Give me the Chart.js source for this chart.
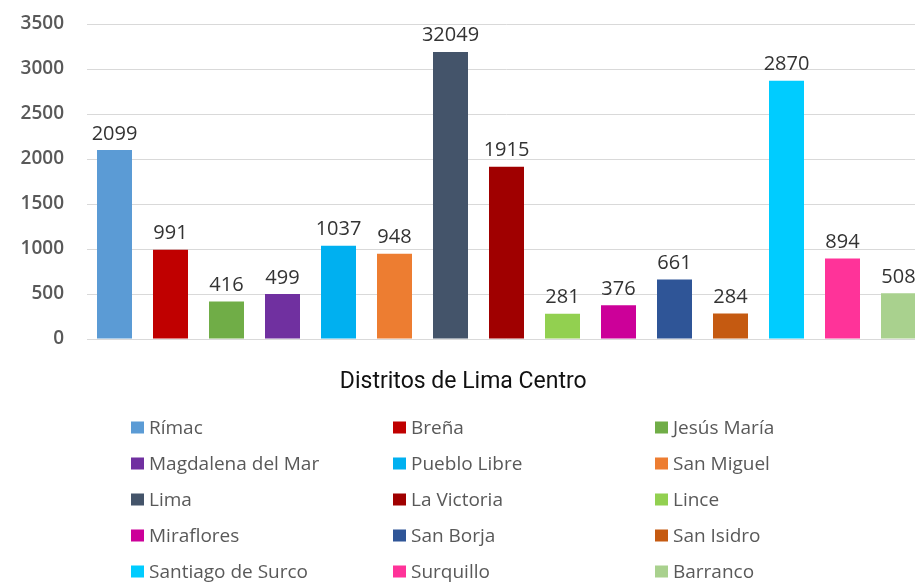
<!DOCTYPE html>
<html>
<head>
<meta charset="utf-8">
<script src="https://cdn.jsdelivr.net/npm/chart.js@4.4.1/dist/chart.umd.min.js"></script>
<style>
  html, body { margin: 0; padding: 0; background: #fff; overflow: hidden; }
  #wrap { width: 930px; height: 585px; }
</style>
</head>
<body>
<div id="wrap"><canvas id="c" width="930" height="585"></canvas></div>
<script>
const categories = ["Rímac", "Breña", "Jesús María", "Magdalena del Mar", "Pueblo Libre", "San Miguel", "Lima", "La Victoria", "Lince", "Miraflores", "San Borja", "San Isidro", "Santiago de Surco", "Surquillo", "Barranco"];
const values = [2099, 991, 416, 499, 1037, 948, 3190, 1915, 281, 376, 661, 284, 2870, 894, 508];
const valueLabels = ["2099", "991", "416", "499", "1037", "948", "32049", "1915", "281", "376", "661", "284", "2870", "894", "508"];
const barColors = ["#5B9BD5", "#C00000", "#70AD47", "#7030A0", "#00B0F0", "#ED7D31", "#44546A", "#A00000", "#92D050", "#CC0099", "#2F5597", "#C55A11", "#00CCFF", "#FF3399", "#A9D18E"];
const yTicks = [0, 500, 1000, 1500, 2000, 2500, 3000, 3500];
const axisTitle = "Distritos de Lima Centro";

const valueLabelPlugin = {
  id: 'valueLabels',
  afterDatasetsDraw(chart) {
    const ctx = chart.ctx;
    const meta = chart.getDatasetMeta(0);
    ctx.save();
    ctx.font = '20px "Open Sans"';
    ctx.fillStyle = '#333333';
    ctx.textAlign = 'center';
    ctx.textBaseline = 'alphabetic';
    meta.data.forEach((bar, i) => {
      ctx.fillText(valueLabels[i], bar.x, bar.y - 10.5);
    });
    ctx.restore();
  }
};

const gridLegendPlugin = {
  id: 'gridLegend',
  afterDraw(chart) {
    const ctx = chart.ctx;
    const colX = [131, 393, 655];
    const rowY = [427.5, 463.5, 499.5, 535.5, 571.5];
    ctx.save();
    ctx.font = '19px "Open Sans"';
    ctx.textAlign = 'left';
    ctx.textBaseline = 'middle';
    categories.forEach((name, i) => {
      const c = i % 3, r = Math.floor(i / 3);
      const x = colX[c], y = rowY[r];
      ctx.fillStyle = barColors[i];
      ctx.fillRect(x, y - 6, 13, 12);
      ctx.fillStyle = '#595959';
      ctx.fillText(name, x + 18, y + 1);
    });
    ctx.restore();
  }
};

new Chart(document.getElementById('c'), {
  type: 'bar',
  data: {
    labels: categories,
    datasets: [{
      data: values,
      backgroundColor: barColors,
      borderWidth: 0,
      categoryPercentage: 1,
      barPercentage: 0.625
    }]
  },
  options: {
    responsive: false,
    animation: false,
    devicePixelRatio: 1,
    layout: { padding: { left: 0, right: 3.5, top: 24, bottom: 180.4 } },
    plugins: {
      legend: { display: false },
      tooltip: { enabled: false },
      title: {
        display: true,
        position: 'bottom',
        text: axisTitle,
        color: '#111111',
        font: { family: 'Roboto', size: 23, weight: 'normal' },
        padding: { top: 29, bottom: 9 }
      }
    },
    scales: {
      x: { display: false },
      y: {
        min: 0,
        max: 3500,
        afterBuildTicks(scale) { scale.ticks = yTicks.map(v => ({ value: v })); },
        afterFit(scale) { scale.width = 86.5; },
        border: { display: false },
        grid: { color: '#D9D9D9', lineWidth: 1, drawTicks: false },
        ticks: {
          padding: 22.5,
          color: '#595959',
          font: { family: 'Open Sans', size: 19, weight: '600', lineHeight: 0.1 },
          callback: (v) => String(v)
        }
      }
    }
  },
  plugins: [valueLabelPlugin, gridLegendPlugin]
});
</script>
</body>
</html>
